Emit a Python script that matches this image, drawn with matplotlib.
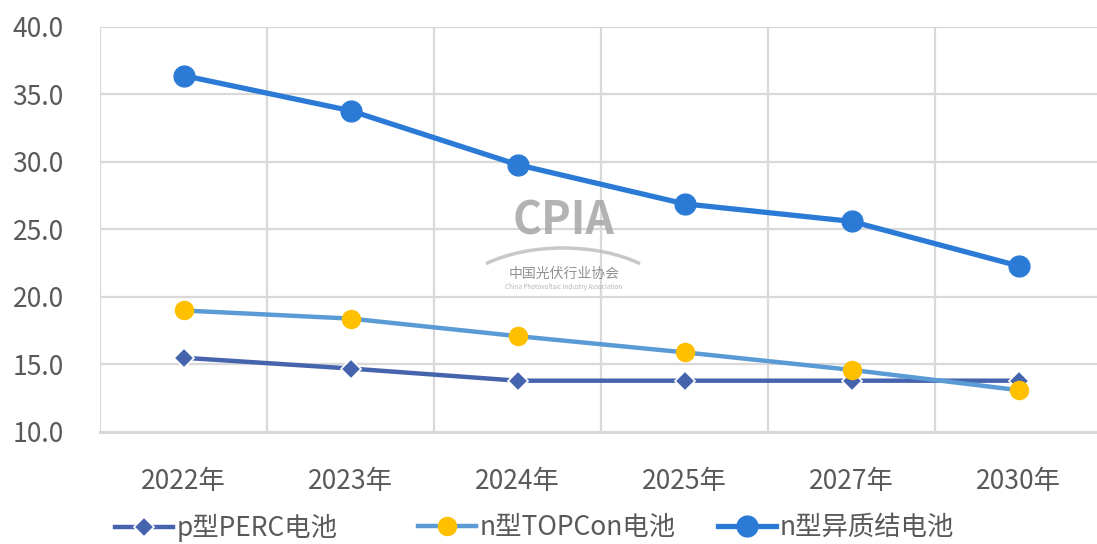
import numpy as np
import matplotlib.pyplot as plt
from matplotlib.patches import Arc

plt.rcParams['font.family'] = ['Noto Sans CJK SC', 'DejaVu Sans']

# data
years = ['2022年', '2023年', '2024年', '2025年', '2027年', '2030年']
perc = [15.5, 14.7, 13.8, 13.8, 13.8, 13.8]
topcon = [19.0, 18.4, 17.1, 15.9, 14.6, 13.1]
hjt = [36.4, 33.8, 29.8, 26.9, 25.6, 22.3]
names = ['p型PERC电池', 'n型TOPCon电池', 'n型异质结电池']

text_color = '#595959'
grid_color = '#D9D9D9'


def main():
    fig = plt.figure(figsize=(10.97, 5.44), dpi=100)
    ax = fig.add_axes([0.0912, 0.2059, 0.9134, 0.7445])

    x = np.arange(len(years))
    l1, = ax.plot(x, perc, color='#4664AD', lw=3.2, marker='D', ms=10,
                  mec='white', mew=1.2, label=names[0], zorder=3)
    l2, = ax.plot(x, topcon, color='#5B9BD5', lw=3.2, marker='o', ms=13,
                  mfc='#FFC000', mec='#FFC000', label=names[1], zorder=4)
    l3, = ax.plot(x, hjt, color='#2B7BD6', lw=3.8, marker='o', ms=15,
                  label=names[2], zorder=5)

    ax.set_xlim(-0.5, len(years) - 0.5)
    ax.set_ylim(10, 40)
    ax.set_yticks(np.arange(10, 40.1, 5))
    ax.set_yticklabels(['%.1f' % v for v in np.arange(10, 40.1, 5)])
    ax.set_xticks(x)
    ax.set_xticklabels(years)
    # vertical grid lines sit between categories
    ax.set_xticks(np.arange(-0.5, len(years), 1), minor=True)
    ax.grid(False)
    ax.grid(axis='y', color=grid_color, lw=1.6)
    ax.grid(axis='x', which='minor', color=grid_color, lw=1.6)
    ax.tick_params(which='both', length=0)
    ax.tick_params(axis='x', pad=26, labelsize=19, colors=text_color)
    ax.tick_params(axis='y', pad=26, labelsize=19, colors=text_color)
    for s in ax.spines.values():
        s.set_visible(False)
    ax.axhline(10, color=grid_color, lw=2.2, zorder=1, clip_on=False)

    # faint CPIA watermark
    fig.text(0.514, 0.592, 'CPIA', fontsize=32, fontweight='bold',
             color='#A6A6A6', ha='center', va='center', alpha=0.85)
    fig.text(0.514, 0.497, '中国光伏行业协会', fontsize=10, color='#7F7F7F',
             ha='center', va='center', alpha=0.85)
    fig.text(0.514, 0.472, 'China Photovoltaic Industry Association', fontsize=4.5,
             color='#A6A6A6', ha='center', va='center', alpha=0.85)
    arc = Arc((563, 241), 220, 110, theta1=27, theta2=153, transform=None,
              color='#BFBFBF', lw=2.5, alpha=0.85)
    fig.add_artist(arc)

    # one legend entry per box so each sits where the reference has it
    for line, name, xpos in [(l1, names[0], 115), (l2, names[1], 418),
                             (l3, names[2], 718)]:
        fig.legend([line], [name], loc='center left',
                   bbox_to_anchor=(xpos / 1097, 0.03), frameon=False,
                   fontsize=19, handlelength=2.2, handletextpad=0.15,
                   borderpad=0, borderaxespad=0, labelcolor=text_color)
    plt.savefig('out.png', dpi=100)


if __name__ == '__main__':
    main()
